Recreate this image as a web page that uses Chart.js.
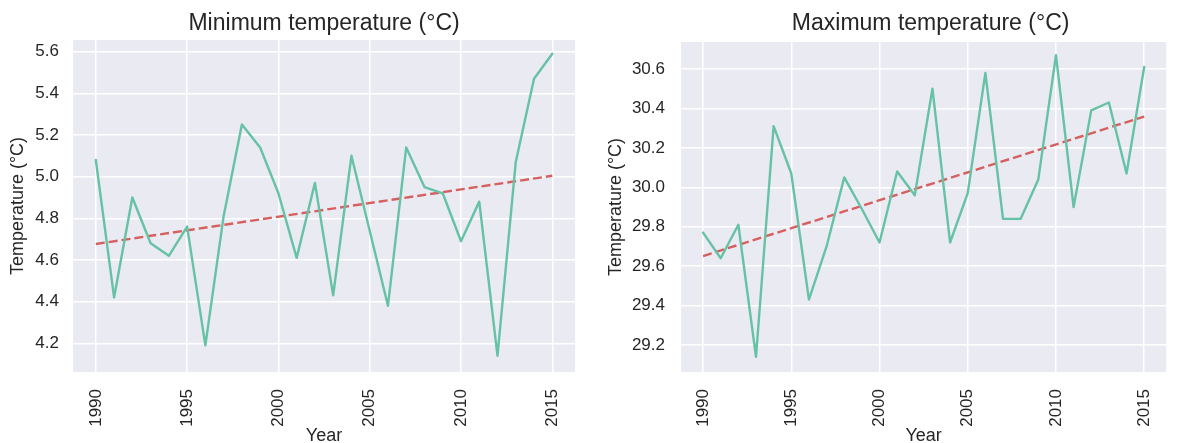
<!DOCTYPE html>
<html>
<head>
<meta charset="utf-8">
<script src="https://cdn.jsdelivr.net/npm/chart.js@4/dist/chart.umd.min.js"></script>
<style>
  html, body { margin: 0; padding: 0; background: #ffffff; overflow: hidden; width: 1182px; height: 443px; }
  canvas { position: absolute; top: 0; }
  #minChart { left: 0; }
  #maxChart { left: 590px; }
</style>
</head>
<body>
<canvas id="minChart" width="590" height="446"></canvas>
<canvas id="maxChart" width="592" height="446"></canvas>
<script>
// Yearly mean temperatures, 1990-2015
const years = [1990, 1991, 1992, 1993, 1994, 1995, 1996, 1997, 1998, 1999, 2000, 2001, 2002,
               2003, 2004, 2005, 2006, 2007, 2008, 2009, 2010, 2011, 2012, 2013, 2014, 2015];
const minTemps = [5.08, 4.42, 4.90, 4.68, 4.62, 4.76, 4.19, 4.81, 5.25, 5.14, 4.92, 4.61, 4.97,
                  4.43, 5.10, 4.74, 4.38, 5.14, 4.95, 4.92, 4.69, 4.88, 4.14, 5.07, 5.47, 5.59];
const maxTemps = [29.77, 29.64, 29.81, 29.14, 30.31, 30.07, 29.43, 29.70, 30.05, 29.89, 29.72, 30.08, 29.96,
                  30.50, 29.72, 29.97, 30.58, 29.84, 29.84, 30.04, 30.67, 29.90, 30.39, 30.43, 30.07, 30.61];

// Tick labels
const yearTicks = [1990, 1995, 2000, 2005, 2010, 2015];
const minTempTicks = [4.2, 4.4, 4.6, 4.8, 5.0, 5.2, 5.4, 5.6];
const maxTempTicks = [29.2, 29.4, 29.6, 29.8, 30.0, 30.2, 30.4, 30.6];

const TEXT = '#262626';
const FONT = '"Liberation Sans", Arial, sans-serif';
Chart.defaults.font.family = FONT;
Chart.defaults.color = TEXT;

// Least-squares straight line through (x, y)
function linearFit(xs, ys) {
  const n = xs.length;
  const mx = xs.reduce((a, b) => a + b, 0) / n;
  const my = ys.reduce((a, b) => a + b, 0) / n;
  let sxy = 0, sxx = 0;
  for (let i = 0; i < n; i++) {
    sxy += (xs[i] - mx) * (ys[i] - my);
    sxx += (xs[i] - mx) * (xs[i] - mx);
  }
  const slope = sxy / sxx;
  return x => my + slope * (x - mx);
}

// Grey panel behind the plotting area
const panelBackground = {
  id: 'panelBackground',
  beforeDraw(chart) {
    const { ctx, chartArea: a } = chart;
    ctx.save();
    ctx.fillStyle = '#eaeaf2';
    ctx.fillRect(a.left, a.top, a.right - a.left, a.bottom - a.top);
    ctx.restore();
  }
};

// Panel heading drawn above the plotting area
const panelTitle = {
  id: 'panelTitle',
  afterDraw(chart, args, opts) {
    const { ctx, chartArea: a } = chart;
    ctx.save();
    ctx.font = opts.size + 'px ' + FONT;
    ctx.fillStyle = TEXT;
    ctx.textAlign = 'center';
    ctx.textBaseline = 'alphabetic';
    ctx.fillText(opts.text, (a.left + a.right) / 2 + opts.dx, opts.baseline);
    ctx.restore();
  }
};

function makeChart(canvasId, cfg) {
  const fit = linearFit(years, cfg.values);
  const first = years[0], last = years[years.length - 1];
  return new Chart(document.getElementById(canvasId), {
    type: 'line',
    data: {
      datasets: [
        {
          data: years.map((yr, i) => ({ x: yr, y: cfg.values[i] })),
          borderColor: '#66c2a5',
          borderWidth: 2.4,
          borderJoinStyle: 'round',
          borderCapStyle: 'round',
          pointRadius: 0,
          tension: 0,
          fill: false
        },
        {
          data: [{ x: first, y: fit(first) }, { x: last, y: fit(last) }],
          borderColor: '#d65f5f',
          borderWidth: 2.4,
          borderDash: [9, 4],
          pointRadius: 0,
          tension: 0,
          fill: false
        }
      ]
    },
    options: {
      responsive: false,
      animation: false,
      layout: { padding: cfg.padding },
      plugins: {
        legend: { display: false },
        tooltip: { enabled: false },
        panelTitle: { text: cfg.title, size: 23, baseline: 30, dx: cfg.titleDx }
      },
      scales: {
        x: {
          type: 'linear',
          min: 1988.75,
          max: 2016.25,
          afterBuildTicks: s => { s.ticks = yearTicks.map(v => ({ value: v })); },
          afterFit: s => { s.height = 74; },
          grid: { color: '#ffffff', lineWidth: 1.5, drawTicks: false },
          border: { display: false },
          ticks: {
            autoSkip: false, minRotation: 90, maxRotation: 90, padding: 17,
            color: TEXT, font: { size: 17 },
            callback: v => String(v)
          },
          title: {
            display: true, text: 'Year', color: TEXT,
            font: { size: 18, lineHeight: 1 }, padding: { top: 0, bottom: 1 }
          }
        },
        y: {
          type: 'linear',
          min: cfg.yMin,
          max: cfg.yMax,
          afterBuildTicks: s => { s.ticks = cfg.ticks.map(v => ({ value: v })); },
          afterFit: s => { s.width = cfg.yWidth; },
          grid: { color: '#ffffff', lineWidth: 1.5, drawTicks: false },
          border: { display: false },
          ticks: {
            autoSkip: false, padding: cfg.tickPad, color: TEXT, font: { size: 17 },
            callback: v => v.toFixed(1)
          },
          title: {
            display: true, text: 'Temperature (°C)', color: TEXT,
            font: { size: 18, lineHeight: 1 }, padding: { top: cfg.titlePad, bottom: 0 }
          }
        }
      }
    },
    plugins: [panelBackground, panelTitle]
  });
}

makeChart('minChart', {
  title: 'Minimum temperature (°C)',
  values: minTemps,
  ticks: minTempTicks,
  yMin: 4.062, yMax: 5.656,
  yWidth: 73, tickPad: 14, titlePad: 9, titleDx: 0,
  padding: { top: 40, right: 7, bottom: 0, left: 0 }
});

makeChart('maxChart', {
  title: 'Maximum temperature (°C)',
  values: maxTemps,
  ticks: maxTempTicks,
  yMin: 29.063, yMax: 30.737,
  yWidth: 91, tickPad: 16, titlePad: 17.5, titleDx: 7,
  padding: { top: 42, right: 9, bottom: 0, left: 0 }
});
</script>
</body>
</html>
